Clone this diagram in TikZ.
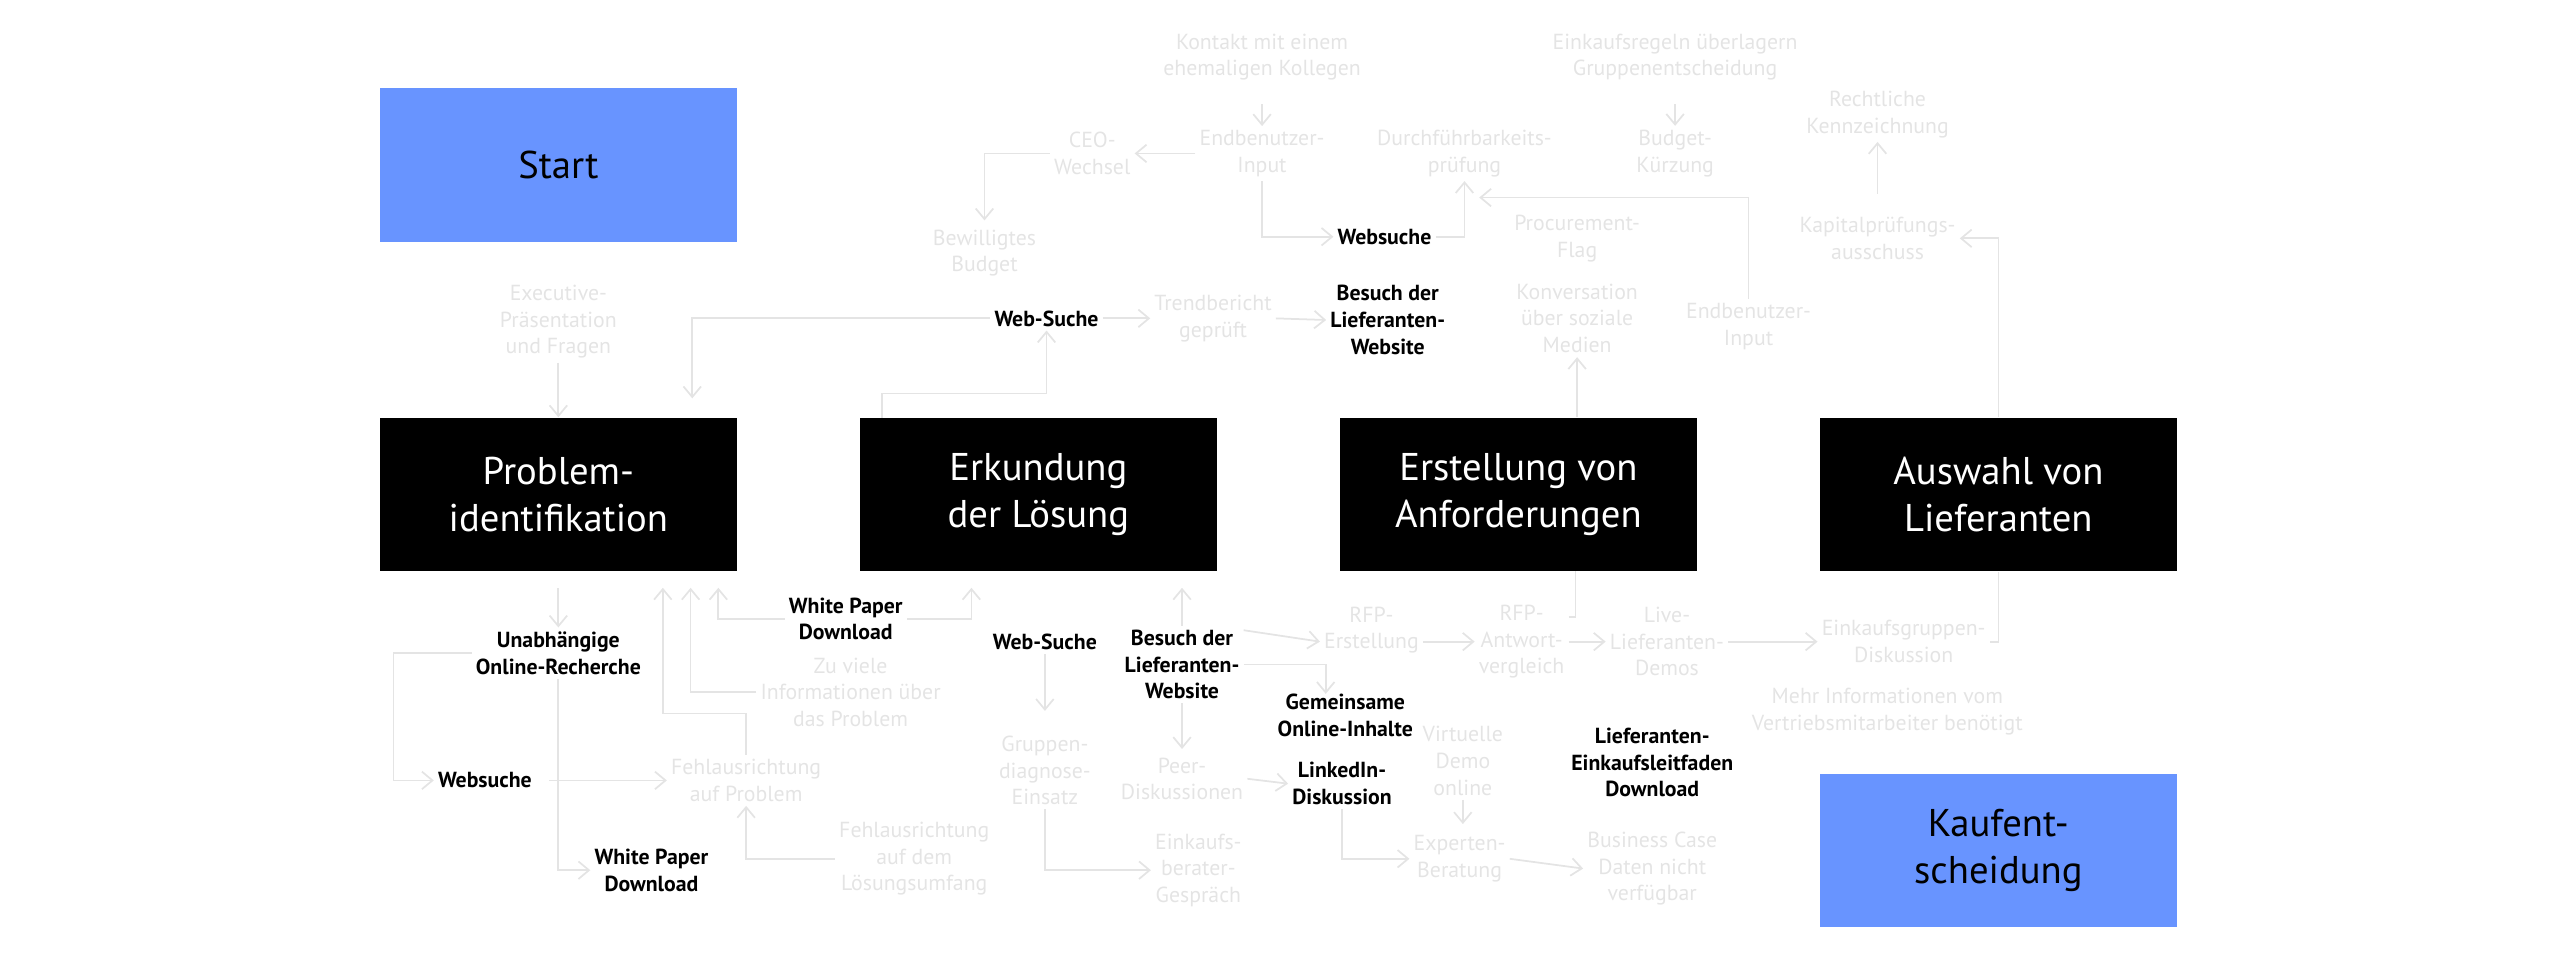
\documentclass[tikz,border=0pt]{standalone}
\usepackage{fontspec}
\setmainfont{PT Sans}
\usetikzlibrary{arrows.meta}
\definecolor{gr}{HTML}{E4E4E4}
\definecolor{bl}{HTML}{6894FF}
\tikzset{
 g/.style={text=gr,align=center,font=\fontsize{6.2}{7.6}\selectfont,inner sep=1pt},
 k/.style={text=black,align=center,font=\fontsize{6.2}{7.6}\selectfont\bfseries,inner sep=1pt},
 big/.style={fill=black,text=white,minimum width=219*0.01633cm,minimum height=94*0.01633cm,align=center,font=\fontsize{11}{13.5}\selectfont},
 blue/.style={fill=bl,text=black,minimum width=219*0.01633cm,minimum height=94*0.01633cm,align=center,font=\fontsize{11}{13.5}\selectfont},
 ln/.style={draw=gr,line width=0.5pt},
 ar/.style={ln,-{Straight Barb[length=3pt,width=5pt]}}
}
\begin{document}
\begin{tikzpicture}[x=0.01633cm,y=-0.01633cm]
\useasboundingbox (0,0) rectangle (1568,590.4);
% main boxes
\node[blue] (start) at (342,101) {Start};
\node[big] (P) at (342,303) {Problem-\\identifikation};
\node[big] (E) at (636,303) {Erkundung\\der Lösung};
\node[big] (A) at (930,303) {Erstellung von\\Anforderungen};
\node[big] (L) at (1224,303) {Auswahl von\\Lieferanten};
\node[blue] (K) at (1224,521) {Kaufent-\\scheidung};
% top texts
\node[g] (kon) at (773,35) {Kontakt mit einem\\ehemaligen Kollegen};
\node[g] (eb1) at (773,94) {Endbenutzer-\\Input};
\node[g] (ceo) at (669,94) {CEO-\\Wechsel};
\node[g] (bew) at (603,155) {Bewilligtes\\Budget};
\node[k] (ws1) at (848,145) {Websuche};
\node[g] (dur) at (897,94) {Durchführbarkeits-\\prüfung};
\node[g] (ein) at (1026,35) {Einkaufsregeln überlagern\\Gruppenentscheidung};
\node[g] (bud) at (1026,94) {Budget-\\Kürzung};
\node[g] (pro) at (966,146) {Procurement-\\Flag};
\node[g] (eb2) at (1071,200) {Endbenutzer-\\Input};
\node[g] (kso) at (966,195) {Konversation\\über soziale\\Medien};
\node[g] (rec) at (1150,70) {Rechtliche\\Kennzeichnung};
\node[g] (kap) at (1150,146) {Kapitalprüfungs-\\ausschuss};
\node[g] (exe) at (342,197) {Executive-\\Präsentation\\und Fragen};
\node[k] (ws2) at (641,195) {Web-Suche};
\node[g] (tre) at (743,195) {Trendbericht\\geprüft};
\node[k] (bes1) at (850,196) {Besuch der\\Lieferanten-\\Website};
% top connectors
\draw[ar] (kon.south)++(0,12) -- (eb1.north);
\draw[ar] (eb1.west) -- (ceo.east);
\draw[ar] (ceo.west) -| (603,135);
\draw[ar] (eb1.south) |- (ws1.west);
\draw[ar] (ws1.east) -| (dur.south);
\draw[ar] (ein.south)++(0,12) -- (bud.north);
\draw[ar] (eb2.north) |- (906,121);
\draw[ar] (A.north -| kso) -- (kso.south);
\draw[ar] (rec.south)++(0,32) -- (rec.south);
\draw[ar] (L.north) |- (kap.east);
\draw[ar] (exe.south) -- (P.north);
\draw[ar] (ws2.west) -| (424,244);
\draw[ar] (540,256) |- (641,241) -- (ws2.south);
\draw[ar] (ws2.east) -- (tre.west);
\draw[ar] (tre.east) -- (bes1.west);
% bottom texts
\node[k] (unab) at (342,400) {Unabhängige\\Online-Recherche};
\node[k] (wp1) at (518,379) {White Paper\\Download};
\node[g] (zuv) at (521,424) {Zu viele\\Informationen über\\das Problem};
\node[k] (ws3) at (297,478) {Websuche};
\node[g] (fp) at (457,478) {Fehlausrichtung\\auf Problem};
\node[k] (wp2) at (399,533) {White Paper\\Download};
\node[g] (fl) at (560,526) {Fehlausrichtung\\auf dem\\Lösungsumfang};
\node[k] (ws4) at (640,393) {Web-Suche};
\node[g] (grd) at (640,472) {Gruppen-\\diagnose-\\Einsatz};
\node[g] (ekb) at (734,533) {Einkaufs-\\berater-\\Gespräch};
\node[k] (bes2) at (724,407) {Besuch der\\Lieferanten-\\Website};
\node[g] (peer) at (724,477) {Peer-\\Diskussionen};
\node[k] (lin) at (822,480) {LinkedIn-\\Diskussion};
\node[g] (exp) at (894,526) {Experten-\\Beratung};
\node[g] (bus) at (1012,532) {Business Case\\Daten nicht\\verfügbar};
\node[g] (rfp) at (840,386) {RFP-\\Erstellung};
\node[g] (rfa) at (932,393) {RFP-\\Antwort-\\vergleich};
\node[g] (live) at (1021,393) {Live-\\Lieferanten-\\Demos};
\node[g] (ekg) at (1166,393) {Einkaufsgruppen-\\Diskussion};
\node[k] (gem) at (824,438) {Gemeinsame\\Online-Inhalte};
\node[g] (vir) at (896,466) {Virtuelle\\Demo\\online};
\node[g] (mehr) at (1156,436) {Mehr Informationen vom\\Vertriebsmitarbeiter benötigt};
\node[k] (lef) at (1012,467) {Lieferanten-\\Einkaufsleitfaden\\Download};
% bottom connectors
\draw[ar] (P.south)++(0,10) -- (unab.north);
\draw[ar] (wp1.west) -| (440,360);
\draw[ar] (wp1.east) -| (595,360);
\draw[ar] (zuv.west) -| (423,360);
\draw[ar] (fp.north) |- (406,437) -- (406,360);
\draw[ar] (unab.west) -| (241,478) -- (ws3.west);
\draw[ar] (ws3.east)++(8,0) -- (fp.west);
\draw[ar] (unab.south) |- (wp2.west);
\draw[ar] (fl.west) -| (fp.south);
\draw[ar] (ws4.south) -- ++(0,35);
\draw[ar] (grd.south) |- (ekb.west);
\draw[ar] (bes2.north) -- (724,360);
\draw[ar] (bes2.south) -- ++(0,28);
\draw[ar] (peer.east) -- (lin.west);
\draw[ar] (lin.south) |- (exp.west);
\draw[ar] (exp.east) -- (bus.west);
\draw[ar] (bes2.east |- rfp.east) -- (rfp.west |- 0,393);
\draw[ar] (rfp.east |- 0,393) -- (rfa.west);
\draw[ln] (rfa.east |- 0,378) -| (965,350);
\draw[ar] (rfa.east) -- (live.west);
\draw[ar] (live.east) -- (ekg.west);
\draw[ln] (ekg.east) -| (L.south);
\draw[ar] (bes2.east) -| (812,425);
\draw[ar] (vir.south) -- ++(0,15);
\end{tikzpicture}
\end{document}
